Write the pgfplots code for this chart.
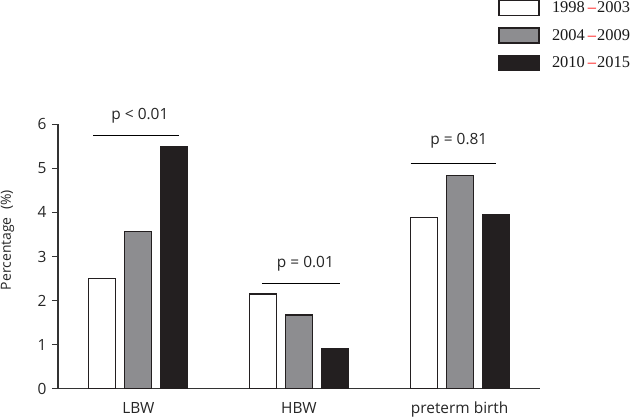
\documentclass[border=0pt]{standalone}
\usepackage{pgfplots}
\pgfplotsset{compat=1.18}
\usepackage{fontspec}
\setmainfont{Open Sans}
\newfontfamily\legfont{Liberation Serif}
\definecolor{barblack}{HTML}{231F20}
\definecolor{bargray}{HTML}{8D8D90}
\definecolor{axcol}{HTML}{333333}
\newcommand{\yr}[2]{{\legfont\fontsize{16.5}{19}\selectfont #1\hspace{3bp}\textcolor{red}{–}\hspace{1bp}#2}}
\begin{document}
\begin{tikzpicture}
\useasboundingbox (0,0) rectangle (630bp,420bp);
\begin{axis}[
  at={(58bp,31.3bp)}, anchor=south west,
  width=482bp, height=264.4bp, scale only axis,
  xmin=-0.5, xmax=2.5, ymin=0, ymax=6,
  axis lines=left, axis line style={-, axcol, line width=1.1bp},
  xtick={0,1,2}, xticklabels={LBW,HBW,preterm birth},
  xtick style={draw=none},
  ytick={0,1,2,3,4,5,6},
  ytick style={axcol, line width=1bp},
  tick align=outside, major tick length=6bp,
  /pgf/number format/assume math mode=true,
  ticklabel style={font=\fontsize{15.5}{18}\selectfont, text=black!85},
  yticklabel style={xshift=-2bp},
  xticklabel style={yshift=-4bp},
  ylabel={Percentage\ \ (\%)},
  every axis y label/.style={at={(rel axis cs:-0.1048,0.562)}, rotate=90, anchor=center,
    font=\fontsize{14}{16}\selectfont, text=black!85},
  clip=false,
  ybar, bar width=27bp,
  legend cell align=left,
  legend image code/.code={\path[draw=none,fill=none] (0bp,-7.5bp) rectangle (53bp,7.5bp); \draw[#1] (0bp,-7.5bp) rectangle (40bp,7.5bp);},
  legend style={at={(rel axis cs:1.1867,1.47)}, anchor=north east, draw=none, fill=none,
    inner sep=0pt, outer sep=0pt, row sep=11bp, column sep=0pt,
    nodes={inner sep=0pt, text=black!90}},
]
\addplot[fill=white, draw=barblack, line width=1.3bp, bar shift=-36bp] coordinates {(0,2.5) (1,2.15) (2,3.89)};
\addplot[fill=bargray, draw=barblack, line width=1.3bp, bar shift=0bp] coordinates {(0,3.57) (1,1.67) (2,4.84)};
\addplot[fill=barblack, draw=barblack, line width=1.3bp, bar shift=36bp] coordinates {(0,5.49) (1,0.92) (2,3.94)};
\legend{\yr{1998}{2003},\yr{2004}{2009},\yr{2010}{2015}}
\draw[line width=1.4bp, black] (axis cs:-0.281,5.74) -- (axis cs:0.25,5.74);
\node[font=\fontsize{15.5}{18}\selectfont, text=black!85] at (axis cs:0.01,6.19) {p < 0.01};
\draw[line width=1.4bp, black] (axis cs:0.769,2.39) -- (axis cs:1.256,2.39);
\node[font=\fontsize{15.5}{18}\selectfont, text=black!85] at (axis cs:1.04,2.83) {p = 0.01};
\draw[line width=1.4bp, black] (axis cs:1.694,5.11) -- (axis cs:2.225,5.11);
\node[font=\fontsize{15.5}{18}\selectfont, text=black!85] at (axis cs:1.995,5.63) {p = 0.81};
\end{axis}
\end{tikzpicture}
\end{document}
